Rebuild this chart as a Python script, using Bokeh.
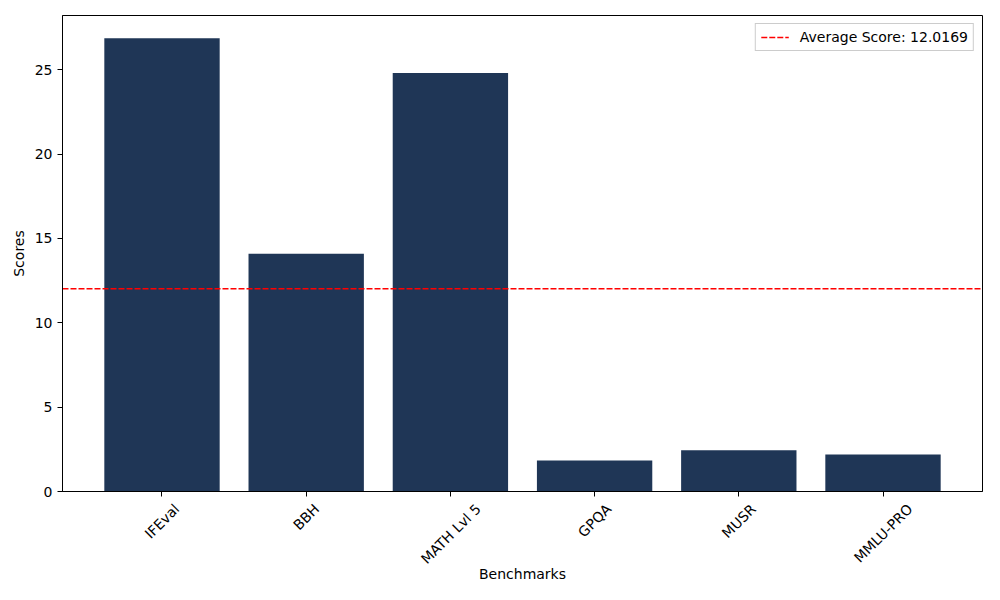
from math import pi

from bokeh.plotting import figure
from bokeh.models import (Range1d, FixedTicker, Legend, LegendItem, LinearAxis,
                          CustomJSTickFormatter)
from bokeh.embed import file_html
from bokeh.resources import INLINE

# Datos
benchmarks = ["IFEval", "BBH", "MATH Lvl 5", "GPQA", "MUSR", "MMLU-PRO"]
scores = [26.87, 14.09, 24.80, 1.84, 2.44, 2.20]
average_score = 12.0169

xs = list(range(len(benchmarks)))
FONT = "DejaVu Sans"
FS = 14  # px
x_lo, x_hi = xs[0] - 0.69, xs[-1] + 0.69
FRAME_W = 920

# anchos aproximados de DejaVu Sans (em): sirven para centrar las etiquetas giradas como matplotlib
EM = {"I": .295, "F": .575, "E": .632, "v": .592, "a": .613, "l": .278, "B": .686, "H": .752,
      "M": .863, "A": .684, "T": .611, "L": .557, " ": .318, "5": .636, "G": .775, "P": .603,
      "Q": .787, "U": .732, "S": .635, "R": .695, "O": .787, "-": .361}


def text_w(s):
    return sum(EM.get(c, .65) for c in s) * FS


p = figure(width=984, height=584, output_backend="svg", toolbar_location=None, tools="",
           x_range=Range1d(x_lo, x_hi), y_range=Range1d(0, max(scores) * 1.05),
           min_border_left=62, min_border_right=2, min_border_top=15, min_border_bottom=92)

p.vbar(x=xs, top=scores, width=0.8, color="#1f3656", line_color=None)

avg_line = p.line(x=[x_lo, x_hi], y=[average_score, average_score], line_color="red",
                  line_dash="6 2", line_width=1.5)
legend = Legend(items=[LegendItem(label="Average Score: %.4f" % average_score, renderers=[avg_line])],
                location="top_right", label_text_font=FONT, label_text_font_size="%dpx" % FS,
                label_text_color="black", border_line_color="#cccccc", border_line_alpha=1.0,
                background_fill_alpha=0.8, glyph_width=28, glyph_height=14, label_height=14,
                padding=5, spacing=0, margin=8, label_standoff=11)
p.add_layout(legend)

p.xgrid.grid_line_color = None
p.ygrid.grid_line_color = None
p.outline_line_color = "black"
p.outline_line_width = 1

# eje principal: solo las marcas
p.xaxis.ticker = FixedTicker(ticks=xs)
p.xaxis.major_label_overrides = {i: "" for i in xs}
p.xaxis.major_label_text_font_size = "0px"
p.xaxis.major_label_standoff = 0

# segundo eje: etiquetas giradas, desplazadas para quedar centradas bajo cada marca
px_per_unit = FRAME_W / (x_hi - x_lo)
label_pos = [x + text_w(b) * 0.354 / px_per_unit for x, b in zip(xs, benchmarks)]
lab_axis = LinearAxis(ticker=FixedTicker(ticks=label_pos),
                      formatter=CustomJSTickFormatter(args=dict(names=benchmarks),
                                                      code="return names[index]"),
                      major_label_orientation=pi / 4, major_label_standoff=10,
                      major_tick_line_color=None, minor_tick_line_color=None,
                      axis_line_color=None, major_tick_out=0, major_tick_in=0,
                      major_label_text_font=FONT, major_label_text_font_size="%dpx" % FS,
                      major_label_text_color="black",
                      axis_label="Benchmarks", axis_label_standoff=-10,
                      axis_label_text_font=FONT, axis_label_text_font_size="%dpx" % FS,
                      axis_label_text_font_style="normal", axis_label_text_color="black")
p.add_layout(lab_axis, "below")

p.yaxis.ticker = FixedTicker(ticks=[0, 5, 10, 15, 20, 25])
p.yaxis.axis_label = "Scores"
yax = p.yaxis[0]
yax.axis_label_text_font = FONT
yax.axis_label_text_font_size = "%dpx" % FS
yax.axis_label_text_font_style = "normal"
yax.axis_label_text_color = "black"
yax.major_label_text_font = FONT
yax.major_label_text_font_size = "%dpx" % FS
yax.major_label_text_color = "black"
for ax in (p.xaxis[0], yax):
    ax.axis_line_color = "black"
    ax.major_tick_line_color = "black"
    ax.major_tick_out = 5
    ax.major_tick_in = 0
    ax.minor_tick_line_color = None

open("out.html", "w").write(file_html(p, INLINE))
